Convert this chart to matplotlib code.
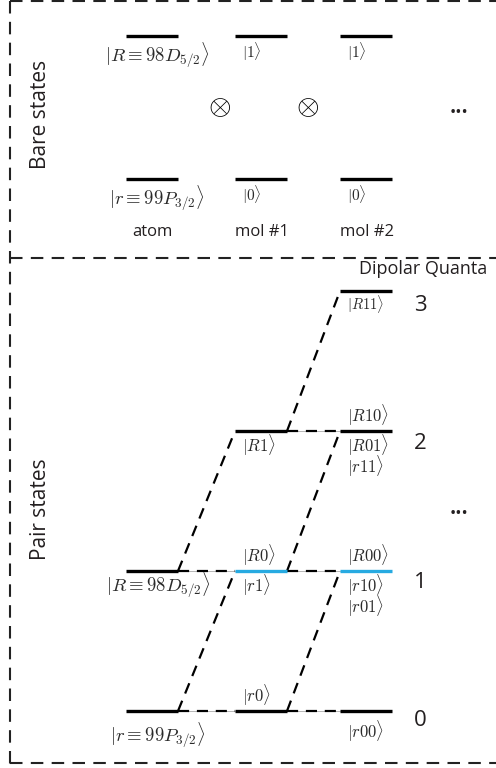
import matplotlib.pyplot as plt

plt.rcParams['mathtext.fontset'] = 'cm'
plt.rcParams['font.family'] = ['Open Sans', 'DejaVu Sans']

# columns of the diagram (pixel centre of each level bar)
col_names = ['atom', 'mol #1', 'mol #2']
col_x = [152, 261, 366]
bar_w = 52

# bare states: level index per column and its ket label
bare_levels = [[0, 1], [0, 1], [0, 1]]
bare_labels = [[r'$|r\equiv 99P_{3/2}\rangle$', r'$|R\equiv 98D_{5/2}\rangle$'],
               [r'$|0\rangle$', r'$|1\rangle$'],
               [r'$|0\rangle$', r'$|1\rangle$']]

# pair states: (column, dipolar quanta, labels above, labels below, highlighted)
pair_states = [
    (0, 0, [], [r'$|r\equiv 99P_{3/2}\rangle$'], False),
    (0, 1, [], [r'$|R\equiv 98D_{5/2}\rangle$'], False),
    (1, 0, [r'$|r0\rangle$'], [], False),
    (1, 1, [r'$|R0\rangle$'], [r'$|r1\rangle$'], True),
    (1, 2, [], [r'$|R1\rangle$'], False),
    (2, 0, [], [r'$|r00\rangle$'], False),
    (2, 1, [r'$|R00\rangle$'], [r'$|r10\rangle$', r'$|r01\rangle$'], True),
    (2, 2, [r'$|R10\rangle$'], [r'$|R01\rangle$', r'$|r11\rangle$'], False),
    (2, 3, [], [r'$|R11\rangle$'], False),
]
quanta = [0, 1, 2, 3]

txt = '#231f20'
ket = '#2a2a2a'
blue = '#27aae1'

fig = plt.figure(figsize=(4.96, 7.68), dpi=100)

# background axes in pixel units for the dashed frames
bg = fig.add_axes([0, 0, 1, 1])
bg.set_xlim(0, 496)
bg.set_ylim(768, 0)
bg.axis('off')
frame = dict(color='#222', lw=1.5, dashes=(6, 4))
bg.plot([10, 10], [1, 764], **frame)
bg.plot([10, 496], [1, 1], **frame)
bg.plot([10, 496], [258, 258], **frame)
bg.plot([10, 496], [763, 763], **frame)

# ---- bare states (1 unit = 142.5 px) ----
ab = fig.add_axes([0, 1 - 258 / 768, 1, 258 / 768])
ab.set_xlim(0, 496)
ab.set_ylim(-0.554, 1.256)
ab.axis('off')
for c, (lv, lb) in enumerate(zip(bare_levels, bare_labels)):
    x = col_x[c]
    for q, l in zip(lv, lb):
        ab.plot([x - bar_w / 2, x + bar_w / 2], [q, q], color='k', lw=2.4,
                solid_capstyle='butt')
        if c == 0:
            ab.text(x + 5, q - 0.13, l, ha='center', va='center', fontsize=13.5,
                    color=ket)
        else:
            ab.text(x - 19, q - 0.11, l, ha='left', va='center', fontsize=11,
                    color=ket)
    ab.text(x + (0 if c == 0 else 1), -0.37, col_names[c], ha='center',
            va='center', fontsize=12, color=txt)
for x in [220, 307]:
    ab.text(x, 0.5, r'$\otimes$', ha='center', va='center', fontsize=21)
ab.text(459, 0.46, '•••', ha='center', va='center', fontsize=12, color=txt)
ab.text(40, 0.45, 'Bare states', rotation=90, ha='center', va='center',
        fontsize=15, color=txt)

# ---- pair states (1 quantum = 140 px) ----
ap = fig.add_axes([0, 0, 1, 510 / 768])
ap.set_xlim(0, 496)
ap.set_ylim(-0.407, 3.236)
ap.axis('off')

present = {(c, q) for c, q, *_ in pair_states}
dash = dict(color='k', lw=1.6, dashes=(5, 3.5))
for c, q, *_ in pair_states:
    if c + 1 < len(col_x):
        x0 = col_x[c] + bar_w / 2
        x1 = col_x[c + 1] - bar_w / 2
        if (c + 1, q) in present:
            ap.plot([x0, x1], [q, q], color='#aaa', lw=0.6)
            ap.plot([x0, x1], [q, q], **dash)
        if (c + 1, q + 1) in present:
            ap.plot([x0, x1], [q, q + 1], **dash)

for c, q, above, below, hl in pair_states:
    x = col_x[c]
    ap.plot([x - bar_w / 2, x + bar_w / 2], [q, q], color=blue if hl else 'k',
            lw=2.4, solid_capstyle='butt', zorder=3)
    if c == 0:
        off = 0.17 if q == 0 else 0.1
        ap.text(x + 6, q - off, below[0], ha='center', va='center',
                fontsize=13.5, color=ket)
        continue
    fs = 10.5 if q == 3 else 12
    if above:
        ap.text(x - 19, q + 0.11, above[0], ha='left', va='center',
                fontsize=fs, color=ket)
    if below:
        top = 0.06 if q == 0 else 0.015
        ap.text(x - 19, q - top, '\n'.join(below), ha='left', va='top',
                fontsize=fs, color=ket, linespacing=0.8)

num_off = [-0.065, -0.085, -0.09, -0.1]
for q, o in zip(quanta, num_off):
    ap.text(420, q + o, str(q), ha='center', va='center', fontsize=16, color=txt)
ap.text(423, 3.16, 'Dipolar Quanta', ha='center', va='center', fontsize=13,
        color=txt)
ap.text(459, 1.41, '•••', ha='center', va='center', fontsize=12, color=txt)
ap.text(40, 1.44, 'Pair states', rotation=90, ha='center', va='center',
        fontsize=15, color=txt)

fig.savefig('out.png', dpi=100)
